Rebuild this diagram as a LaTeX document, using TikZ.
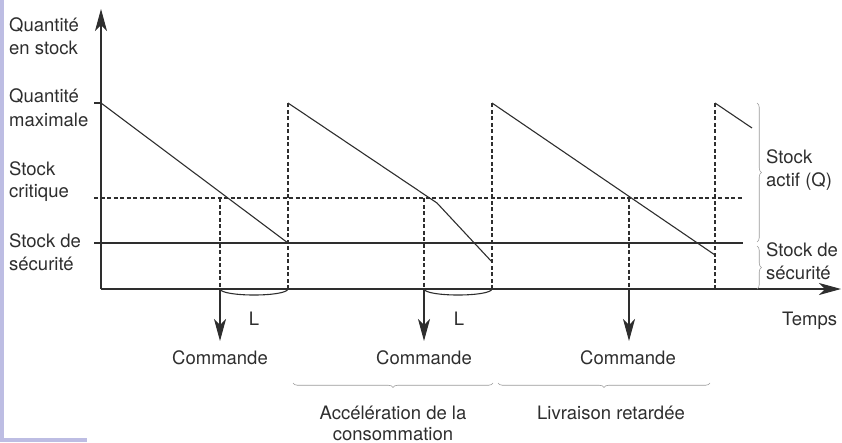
\documentclass[tikz,border=0pt]{standalone}
\usepackage{fontspec}
\setmainfont{TeX Gyre Heros}
\usetikzlibrary{arrows.meta,decorations.pathreplacing}
\definecolor{ink}{HTML}{2E2E2E}
\definecolor{lav}{HTML}{BDBDE3}
\definecolor{brcol}{HTML}{9A9A9A}
\begin{document}
\begin{tikzpicture}[x=1pt,y=-1pt,
  lbl/.style={anchor=base west,inner sep=0pt,text=ink,font=\fontsize{18.5}{23.5}\selectfont},
  clbl/.style={anchor=base,inner sep=0pt,text=ink,font=\fontsize{18.5}{23.5}\selectfont},
  ln/.style={draw=ink,line width=1.1pt},
  dsh/.style={ln,dash pattern=on 4pt off 2.5pt},
  bigtip/.style={-{Stealth[length=22pt,width=12pt,inset=6pt]}},
  brc/.style={draw=brcol,line width=0.6pt,decorate,decoration={brace,amplitude=4.5pt}}]
\useasboundingbox (0,0) rectangle (842,442);
\fill[lav] (0,0) rectangle (3.5,442);
\fill[lav] (0,438) rectangle (87,442);
% key points
\coordinate (O) at (101,289);
\coordinate (Ytop) at (101,9);
\coordinate (Xend) at (841,289);
\coordinate (maxL) at (94,103);
\coordinate (critL) at (94,198);
\coordinate (critR) at (743,198);
\coordinate (secL) at (94,243);
\coordinate (secR) at (743,243);
\coordinate (p0) at (101,103);
\coordinate (p1) at (288,243);
\coordinate (p1a) at (288,289);
\coordinate (p2) at (288,103);
\coordinate (k2) at (437,203);
\coordinate (p3) at (492,262);
\coordinate (p3a) at (492,289);
\coordinate (p4) at (492,103);
\coordinate (p5) at (715,255);
\coordinate (p5a) at (715,289);
\coordinate (p6) at (715,103);
\coordinate (p7) at (752,128);
\coordinate (c1) at (220,198);
\coordinate (c1a) at (220,289);
\coordinate (c1b) at (220,341);
\coordinate (c2) at (424,198);
\coordinate (c2a) at (424,289);
\coordinate (c2b) at (424,341);
\coordinate (c3) at (629,198);
\coordinate (c3a) at (629,289);
\coordinate (c3b) at (629,341);
% reference lines
\draw[dsh] (critL) -- (critR);
\draw[ln] (secL) -- (secR);
\draw[ln] (maxL) -- (p0);
% axes
\draw[ln,bigtip] (O) -- (Ytop);
\draw[ln,bigtip] (O) -- (Xend);
% stock curve
\draw[ln] (p0) -- (p1);
\draw[dsh] (p1a) -- (p2);
\draw[ln] (p2) -- (k2) -- (p3);
\draw[dsh] (p3a) -- (p4);
\draw[ln] (p4) -- (p5);
\draw[dsh] (p5a) -- (p6);
\draw[ln] (p6) -- (p7);
% order points
\draw[dsh] (c1) -- (c1a);
\draw[dsh] (c2) -- (c2a);
\draw[dsh] (c3) -- (c3a);
\draw[ln,bigtip] (c1a) -- (c1b);
\draw[ln,bigtip] (c2a) -- (c2b);
\draw[ln,bigtip] (c3a) -- (c3b);
% lead time cups
\draw[ln] (c1a) .. controls (222,297) and (286,297) .. (p1a);
\draw[ln] (c2a) .. controls (426,297) and (490,297) .. (p3a);
% braces
\draw[brc] (757,103) -- (757,242);
\draw[brc] (757,246) -- (757,289);
\draw[brc] (493,383) -- (293,383);
\draw[brc] (710,383) -- (498,383);
% labels
\node[lbl] (q1) at (9,31) {Quantité};
\node[lbl] (q2) at (9,54) {en stock};
\node[lbl] (m1) at (9,102) {Quantité};
\node[lbl] (m2) at (9,126) {maximale};
\node[lbl] (s1) at (9,175) {Stock};
\node[lbl] (s2) at (9,197.5) {critique};
\node[lbl] (f1) at (9,247) {Stock de};
\node[lbl] (f2) at (9,270) {sécurité};
\node[lbl] (a1) at (766,163) {Stock};
\node[lbl] (a2) at (766,186) {actif (Q)};
\node[lbl] (r1) at (766,256) {Stock de};
\node[lbl] (r2) at (766,279) {sécurité};
\node[lbl] (tps) at (782,325) {Temps};
\node[clbl] (L1) at (254,325) {L};
\node[clbl] (L2) at (459,325) {L};
\node[clbl] (cm1) at (220,364) {Commande};
\node[clbl] (cm2) at (424,364) {Commande};
\node[clbl] (cm3) at (628,364) {Commande};
\node[clbl] (ac1) at (393,419) {Accélération de la};
\node[clbl] (ac2) at (393,440) {consommation};
\node[clbl] (lv) at (611,419) {Livraison retardée};
\end{tikzpicture}
\end{document}
